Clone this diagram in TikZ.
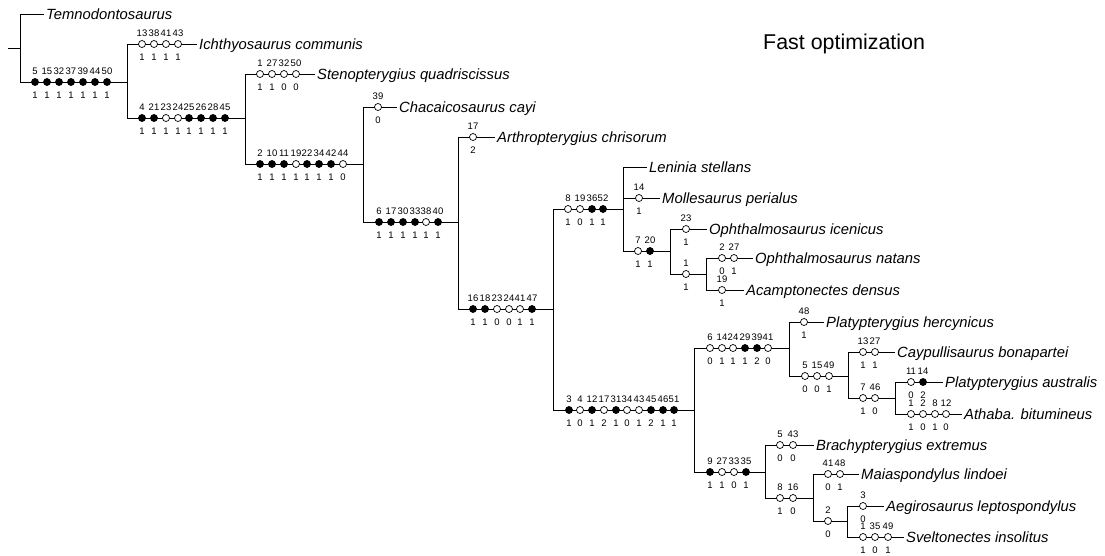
\documentclass[tikz,border=0pt]{standalone}
\usepackage{fontspec}
\setmainfont{Liberation Sans}
\usetikzlibrary{positioning}

% one row of character changes on a branch: #1 = y, #2 = x/character/style/state
\newcommand{\synrow}[2]{%
  \foreach \x/\c/\s/\v in {#2} {
    \node[\s] (c\c-\x) at (\x,#1) {};
    \node[num] at (\x,#1-7.5) {\c};
    \node[num] at (\x,#1+16.5) {\v};
  }}

\begin{document}
\begin{tikzpicture}[
  x=1pt, y=-1pt,
  branch/.style={line width=0.8pt},
  apo/.style={circle, draw, fill=black, line width=0.7pt, inner sep=0pt, minimum size=7pt},
  hom/.style={apo, fill=white},
  num/.style={font=\fontsize{9.5}{10}\selectfont, anchor=base, inner sep=0pt},
  taxon/.style={anchor=west, inner xsep=2pt, inner ysep=0pt, font=\fontsize{14.8}{16}\selectfont\itshape, text height=10.6pt, text depth=0pt}
]
  \useasboundingbox (0,0) rectangle (1105,555);

  % Terminal taxa
  \node[taxon] (temno) at (44,14) {Temnodontosaurus};
  \node[taxon] (ichth) at (197,44) {Ichthyosaurus communis};
  \node[taxon] (steno) at (315,74) {Stenopterygius quadriscissus};
  \node[taxon] (chaca) at (397,107) {Chacaicosaurus cayi};
  \node[taxon] (arthro) at (495,137) {Arthropterygius chrisorum};
  \node[taxon] (lenin) at (647,167) {Leninia stellans};
  \node[taxon] (molle) at (660,198) {Mollesaurus perialus};
  \node[taxon] (icen) at (707,229) {Ophthalmosaurus icenicus};
  \node[taxon] (natans) at (753,258) {Ophthalmosaurus natans};
  \node[taxon] (acamp) at (744,290) {Acamptonectes densus};
  \node[taxon] (herc) at (824,322) {Platypterygius hercynicus};
  \node[taxon] (cayp) at (895,352) {Caypullisaurus bonapartei};
  \node[taxon] (austr) at (943,382) {Platypterygius australis};
  \node[taxon] (athab) at (962,414) {Athaba. bitumineus};
  \node[taxon] (brachy) at (814,445) {Brachypterygius extremus};
  \node[taxon] (maia) at (859,474) {Maiaspondylus lindoei};
  \node[taxon] (aegiro) at (884,506) {Aegirosaurus leptospondylus};
  \node[taxon] (svelt) at (904,537) {Sveltonectes insolitus};

  \node[font=\fontsize{21.4}{24}\selectfont, anchor=base west, inner sep=0pt] (title) at (763,49) {Fast optimization};

  % Internal nodes
  \coordinate (root) at (8,48);
  \coordinate (n0) at (20,48);
  \coordinate (n1) at (127,82);
  \coordinate (n2) at (245,118);
  \coordinate (n3) at (363,164);
  \coordinate (n4) at (458,222);
  \coordinate (n5) at (553,309);
  \coordinate (n6) at (623,209);
  \coordinate (n7) at (670,251);
  \coordinate (n8) at (706,274);
  \coordinate (n9) at (694,410);
  \coordinate (n10) at (789,348);
  \coordinate (n11) at (848,376);
  \coordinate (n12) at (895,398);
  \coordinate (n13) at (765,472);
  \coordinate (n14) at (813,498);
  \coordinate (n15) at (847,521);

  % Branches
  \draw[branch] (root) -- (n0);
  \foreach \p/\q in {n0/temno.west, n0/n1, n1/ichth.west, n1/n2, n2/steno.west, n2/n3,
      n3/chaca.west, n3/n4, n4/arthro.west, n4/n5, n5/n6, n5/n9,
      n6/lenin.west, n6/molle.west, n6/n7, n7/icen.west, n7/n8, n8/natans.west, n8/acamp.west,
      n9/n10, n9/n13, n10/herc.west, n10/n11, n11/cayp.west, n11/n12, n12/austr.west, n12/athab.west,
      n13/brachy.west, n13/n14, n14/maia.west, n14/n15, n15/aegiro.west, n15/svelt.west}
    \draw[branch] (\p) |- (\q);

  % Character changes
  \synrow{82}{35/5/apo/1, 47/15/apo/1, 59/32/apo/1, 71/37/apo/1, 83/39/apo/1, 95/44/apo/1, 107/50/apo/1}
  \synrow{44}{142/13/hom/1, 154/38/hom/1, 166/41/hom/1, 178/43/hom/1}
  \synrow{118}{142/4/apo/1, 154/21/apo/1, 166/23/hom/1, 178/24/hom/1, 189/25/apo/1, 201/26/apo/1, 213/28/apo/1, 225/45/apo/1}
  \synrow{74}{260/1/hom/1, 272/27/hom/1, 284/32/hom/0, 296/50/hom/0}
  \synrow{164}{260/2/apo/1, 272/10/apo/1, 284/11/apo/1, 296/19/hom/1, 307/22/apo/1, 319/34/apo/1, 331/42/apo/1, 343/44/hom/0}
  \synrow{107}{378/39/hom/0}
  \synrow{222}{379/6/apo/1, 391/17/apo/1, 403/30/apo/1, 415/33/apo/1, 426/38/hom/1, 438/40/apo/1}
  \synrow{137}{473/17/hom/2}
  \synrow{309}{473/16/apo/1, 485/18/apo/1, 497/23/hom/0, 509/24/hom/0, 520/41/hom/1, 532/47/apo/1}
  \synrow{209}{568/8/hom/1, 580/19/hom/0, 592/36/apo/1, 603/52/apo/1}
  \synrow{198}{639/14/hom/1}
  \synrow{251}{638/7/hom/1, 650/20/apo/1}
  \synrow{229}{686/23/hom/1}
  \synrow{274}{686/1/hom/1}
  \synrow{258}{722/2/hom/0, 734/27/hom/1}
  \synrow{290}{722/19/hom/1}
  \synrow{410}{569/3/apo/1, 580/4/hom/0, 592/12/apo/1, 604/17/hom/2, 616/31/apo/1, 627/34/hom/0, 639/43/hom/1, 651/45/apo/2, 663/46/apo/1, 674/51/apo/1}
  \synrow{348}{710/6/hom/0, 722/14/hom/1, 733/24/hom/1, 745/29/apo/1, 757/39/apo/2, 768/41/hom/0}
  \synrow{322}{804/48/hom/1}
  \synrow{376}{805/5/hom/0, 817/15/hom/0, 829/49/hom/1}
  \synrow{352}{863/13/hom/1, 875/27/hom/1}
  \synrow{398}{863/7/hom/1, 875/46/hom/0}
  \synrow{382}{911/11/hom/0, 923/14/apo/2}
  \synrow{414}{911/1/hom/1, 923/2/hom/0, 935/8/hom/1, 946/12/hom/0}
  \synrow{472}{710/9/apo/1, 722/27/hom/1, 734/33/hom/0, 746/35/apo/1}
  \synrow{445}{780/5/hom/0, 793/43/hom/0}
  \synrow{498}{780/8/hom/1, 793/16/hom/0}
  \synrow{474}{828/41/hom/0, 840/48/hom/1}
  \synrow{521}{828/2/hom/0}
  \synrow{506}{863/3/hom/0}
  \synrow{537}{863/1/hom/1, 875/35/hom/0, 888/49/hom/1}
\end{tikzpicture}
\end{document}
